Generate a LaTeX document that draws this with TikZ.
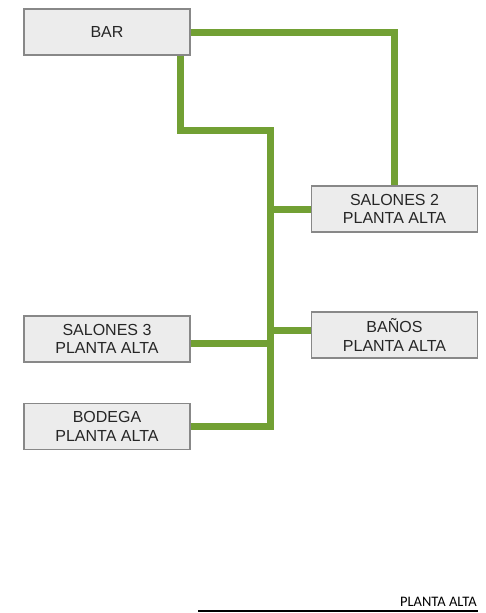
\documentclass[tikz,border=0pt]{standalone}
\usepackage{fontspec}
\setmainfont{Liberation Sans}
\newfontfamily\planfont{Carlito}
\definecolor{linkgreen}{RGB}{114,160,52}
\definecolor{boxfill}{RGB}{236,236,236}
\definecolor{boxline}{RGB}{136,136,136}
\begin{document}
\begin{tikzpicture}[
  x=1pt, y=-1pt,
  font=\fontsize{16}{18.5}\selectfont,
  area/.style={draw=boxline,line width=1.5pt,fill=boxfill,
    minimum width=166pt,minimum height=46pt,align=center,
    inner sep=0pt,text=black!85},
  link/.style={draw=linkgreen,line width=7pt,line join=miter}]
\useasboundingbox (0,0) rectangle (485,613);
% areas
\node[area] (bar)    at (107,32)    {BAR};
\node[area] (sal2)   at (394.5,209) {SALONES 2\\PLANTA ALTA};
\node[area] (banos)  at (394.5,335) {BAÑOS\\PLANTA ALTA};
\node[area] (sal3)   at (107,339)   {SALONES 3\\PLANTA ALTA};
\node[area] (bodega) at (107,426.5) {BODEGA\\PLANTA ALTA};
% trunk points
\coordinate (bend) at (180,130);
\coordinate (ttop) at (270,130);
% links
\draw[link] (bar.east) -| (sal2.north);
\draw[link] (bar.south -| bend) -- (bend) -- (ttop) |- (bodega.east);
\draw[link] (sal2.west) -- (sal2.west -| ttop);
\draw[link] ([yshift=5pt]banos.west) -- ([yshift=5pt]banos.west -| ttop);
\draw[link] ([yshift=-4pt]sal3.east) -- ([yshift=-4pt]sal3.east -| ttop);
% caption
\node[anchor=base east,inner sep=0pt,font=\planfont\fontsize{14.5}{16}\selectfont] (cap) at (477,606) {PLANTA ALTA};
\draw[line width=1.6pt] (198,611) -- (478,611);
\end{tikzpicture}
\end{document}
